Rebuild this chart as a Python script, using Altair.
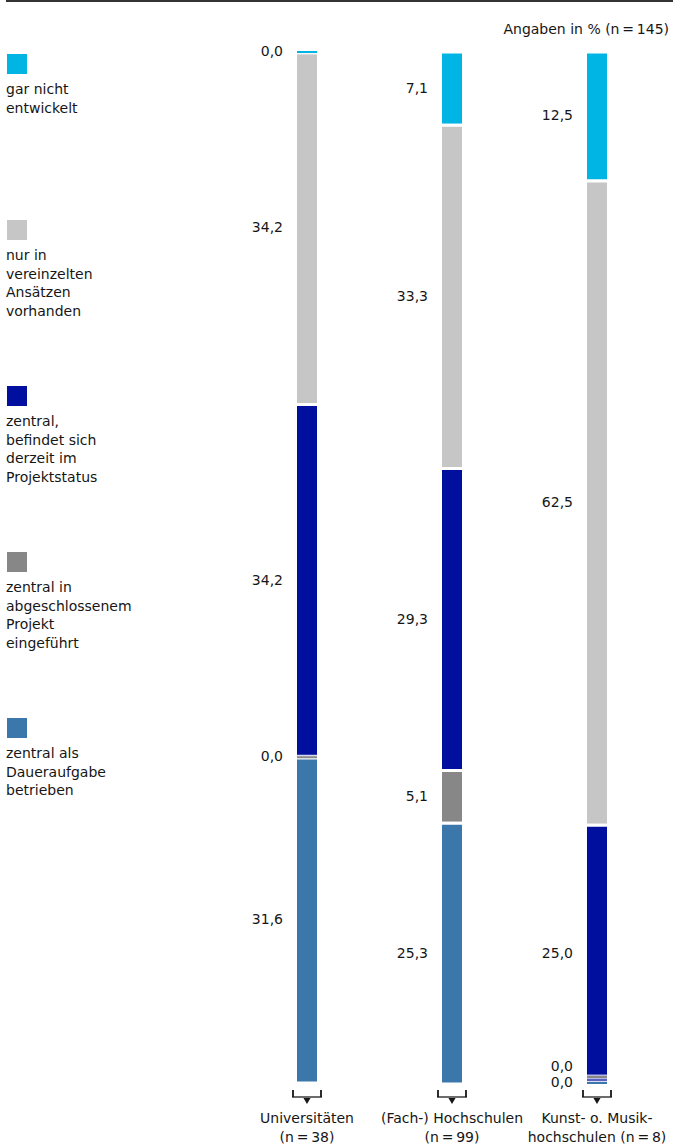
import altair as alt
import pandas as pd

# Hochschultypen (x categories) and their bottom labels
categories = ["Universitäten", "(Fach-) Hochschulen", "Kunst- o. Musikhochschulen"]
category_labels = [
    "Universitäten\n(n\u2009=\u200938)",
    "(Fach-) Hochschulen\n(n\u2009=\u200999)",
    "Kunst- o. Musik-\nhochschulen (n\u2009=\u20098)",
]

# Entwicklungsstand (stack order top -> bottom)
status = [
    "gar nicht entwickelt",
    "nur in vereinzelten Ansätzen vorhanden",
    "zentral, befindet sich derzeit im Projektstatus",
    "zentral in abgeschlossenem Projekt eingeführt",
    "zentral als Daueraufgabe betrieben",
]
status_labels = [
    "gar nicht\nentwickelt",
    "nur in\nvereinzelten\nAnsätzen\nvorhanden",
    "zentral,\nbefindet sich\nderzeit im\nProjektstatus",
    "zentral in\nabgeschlossenem\nProjekt\neingeführt",
    "zentral als\nDaueraufgabe\nbetrieben",
]
colors = ["#00b4e4", "#c6c6c6", "#000f9e", "#878787", "#3b77aa"]

# Anteile in % je Hochschultyp
uni = [0.0, 34.2, 34.2, 0.0, 31.6]
fh = [7.1, 33.3, 29.3, 5.1, 25.3]
kmh = [12.5, 62.5, 25.0, 0.0, 0.0]

TEXT = "#161616"
FONT = "DejaVu Sans"
FS = 14

rows = []
for cat, vals in zip(categories, [uni, fh, kmh]):
    pos = 0.0
    for i, v in enumerate(vals):
        nxt = vals[i + 1] if i + 1 < len(vals) else None
        rows.append({
            "cat": cat,
            "status": status[i],
            "value": v,
            "start": pos,
            "end": pos + v,
            "mid": pos + v / 2,
            "label": f"{v:.1f}".replace(".", ","),
            # an empty segment directly followed by another empty one is lifted
            "lift": v == 0 and nxt == 0,
        })
        pos += v
df = pd.DataFrame(rows)

legend_df = pd.DataFrame({"status": status, "text": status_labels, "idx": list(range(len(status)))})
cat_df = pd.DataFrame({"cat": categories, "text": category_labels})

yscale = alt.Scale(domain=[0, 100], reverse=True, nice=False, zero=False)
xenc = alt.X("cat:N", sort=categories,
             scale=alt.Scale(type="point", range=[307, 597], padding=0), axis=None)
color = alt.Color("status:N", scale=alt.Scale(domain=status, range=colors), legend=None)

base = alt.Chart(df)

bars = base.transform_filter("datum.value > 0").mark_bar(
    width=23, stroke="white", strokeWidth=3
).encode(x=xenc, y=alt.Y("start:Q", scale=yscale, axis=None), y2="end:Q", color=color)

zero_plain = base.transform_filter("datum.value == 0 && !datum.lift")
zero_lift = base.transform_filter("datum.value == 0 && datum.lift")

def zero_marks(src, offset):
    halo = src.mark_tick(orient="horizontal", size=22, thickness=5, color="white", yOffset=offset).encode(
        x=xenc, y=alt.Y("start:Q", scale=yscale, axis=None)
    )
    line = src.mark_tick(orient="horizontal", size=20, thickness=2, opacity=1, yOffset=offset).encode(
        x=xenc, y=alt.Y("start:Q", scale=yscale, axis=None), color=color
    )
    return halo + line

value_labels = base.transform_filter("!datum.lift").mark_text(
    align="right", baseline="middle", dx=-24, font=FONT, fontSize=FS, color=TEXT
).encode(x=xenc, y=alt.Y("mid:Q", scale=yscale, axis=None), text="label:N")

lift_labels = base.transform_filter("datum.lift").mark_text(
    align="right", baseline="middle", dx=-24, dy=-16, font=FONT, fontSize=FS, color=TEXT
).encode(x=xenc, y=alt.Y("mid:Q", scale=yscale, axis=None), text="label:N")

# bracket with arrow under each bar
cats = alt.Chart(cat_df)
bracket_h = cats.mark_tick(orient="horizontal", size=30, thickness=1.8, color=TEXT).encode(
    x=xenc, y=alt.value(1045)
)
bracket_l = cats.mark_rule(xOffset=-14, strokeWidth=1.8, color=TEXT).encode(
    x=xenc, y=alt.value(1038), y2=alt.value(1045)
)
bracket_r = cats.mark_rule(xOffset=14, strokeWidth=1.8, color=TEXT).encode(
    x=xenc, y=alt.value(1038), y2=alt.value(1045)
)
arrow = cats.mark_point(shape="triangle-down", filled=True, size=50, opacity=1, color=TEXT).encode(
    x=xenc, y=alt.value(1049)
)
cat_text = cats.mark_text(
    align="center", baseline="alphabetic", lineBreak="\n", lineHeight=18.5,
    font=FONT, fontSize=FS, color=TEXT
).encode(x=xenc, y=alt.value(1071), text="text:N")

# legend column on the left
ly = alt.Y("idx:O", scale=alt.Scale(type="point", range=[12, 676], padding=0), axis=None)
lbase = alt.Chart(legend_df)
legend_sq = lbase.mark_square(size=400, opacity=1).encode(x=alt.value(17), y=ly, color=color)
legend_txt = lbase.mark_text(
    align="left", baseline="alphabetic", lineBreak="\n", lineHeight=18.5, dy=30,
    font=FONT, fontSize=FS, color=TEXT
).encode(x=alt.value(6), y=ly, text="text:N")

top_line = alt.Chart(cat_df).mark_rule(color="#333333", strokeWidth=2).encode(
    x=alt.value(6), x2=alt.value(673), y=alt.value(-51)
)
note = alt.Chart(cat_df.head(1)).mark_text(
    align="right", baseline="middle", font=FONT, fontSize=FS, color=TEXT
).encode(x=alt.value(669), y=alt.value(-22), text=alt.value("Angaben in % (n\u2009=\u2009145)"))

chart = alt.layer(
    top_line, note,
    bars, zero_marks(zero_plain, 0), zero_marks(zero_lift, -6),
    value_labels, lift_labels,
    bracket_h, bracket_l, bracket_r, arrow, cat_text,
    legend_sq, legend_txt,
).resolve_scale(y="independent").properties(
    width=673, height=1031,
    padding={"left": 0, "top": 52, "right": 0, "bottom": 63},
    autosize=alt.AutoSizeParams(type="none"),
    background="white",
).configure_view(stroke=None)

chart.save("out.html", embed_options={"renderer": "svg", "actions": False})
